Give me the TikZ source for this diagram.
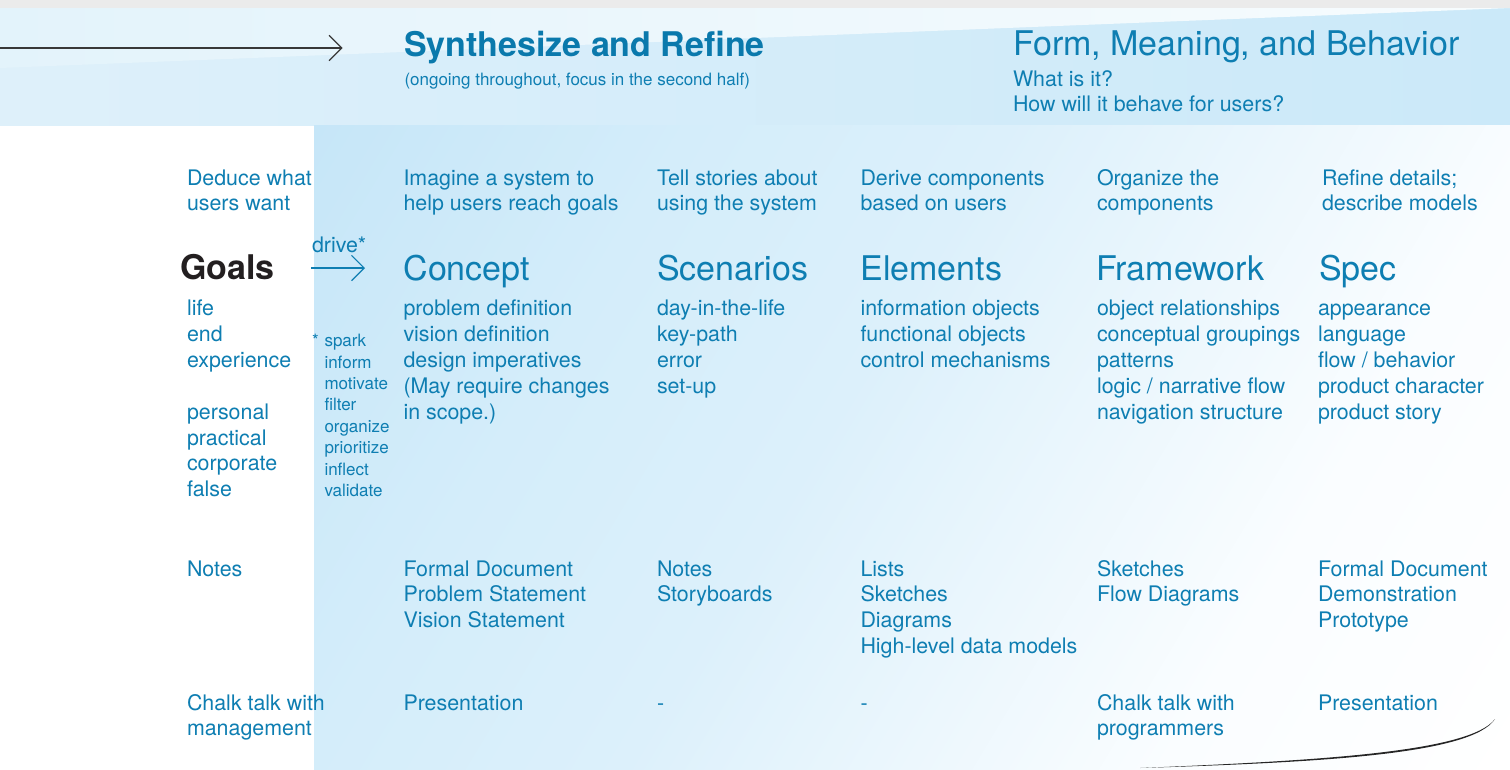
\documentclass[tikz,border=0pt]{standalone}
\usepackage{fontspec}
\setmainfont{TeX Gyre Heros}
\usetikzlibrary{arrows.meta}
\definecolor{tb}{HTML}{0E7EB2}
\definecolor{tbd}{HTML}{0A79AC}
\definecolor{goalc}{HTML}{231F20}
\definecolor{graytop}{HTML}{EBEBEB}
\definecolor{bandL}{HTML}{DEF0FA}
\definecolor{bandR}{HTML}{CBE9F9}
\definecolor{wedgeL}{HTML}{E3F3FB}
\definecolor{wedgeR}{HTML}{F7FCFE}
\definecolor{m0}{HTML}{C6E6F8}
\definecolor{m1}{HTML}{D4EDFA}
\definecolor{m2}{HTML}{DCF0FB}
\definecolor{m3}{HTML}{ECF7FD}
\definecolor{m4}{HTML}{FAFDFF}
\pgfdeclarehorizontalshading{mainsh}{100bp}{color(0bp)=(m0); color(25bp)=(m0); color(37bp)=(m1); color(47bp)=(m2); color(56bp)=(m3); color(64bp)=(m4); color(75bp)=(white); color(100bp)=(white)}
\begin{document}
\begin{tikzpicture}[x=1pt,y=-1pt,
  txt/.style={anchor=base west, inner sep=0pt, outer sep=0pt, text=tb, align=left, font=\fontsize{21.4}{25.9}\selectfont},
  ttl/.style={anchor=base west, inner sep=0pt, outer sep=0pt, text=tb, font=\fontsize{34}{40}\selectfont},
  sml/.style={anchor=base west, inner sep=0pt, outer sep=0pt, text=tb, align=left, font=\fontsize{17}{21.43}\selectfont},
  barb/.style={-{Straight Barb[length=12.7pt,width=25.4pt,line width=1.1pt]}}]
\useasboundingbox (0,0) rectangle (1510,769);
\fill[white] (0,0) rectangle (1510,769);
% top strips
\fill[graytop] (0,0) rectangle (1510,8);
\shade[left color=bandL, right color=bandR] (0,8) rectangle (1510,125);
\shade[left color=wedgeL, right color=wedgeR] (0,8) -- (1510,8) -- (0,68) -- cycle;
% main region
\begin{scope}
  \clip (314,125) rectangle (1510,769);
  \begin{scope}[transform canvas={rotate around={-31:(314,125)}}]
    \shade[shading=mainsh] (314,-650) rectangle (1671,850);
  \end{scope}
\end{scope}
% bottom swoosh
\fill[black!85] (1495,719) .. controls (1470,752) and (1320,760.5) .. (1140,768)
  .. controls (1321,762.3) and (1472,754.5) .. (1495,719) -- cycle;
% top arrow
\coordinate (ta0) at (0,48);
\coordinate (ta1) at (342.5,48);
\draw[barb, draw=black!78, line width=1.1pt] (ta0) -- (ta1);
% header
\node[ttl, font=\fontsize{34}{40}\selectfont\bfseries, text=tbd] (synth) at (404,56) {Synthesize and Refine};
\node[sml] (ongoing) at (404.5,85) {(ongoing throughout, focus in the second half)};
\node[ttl] (form) at (1013,55) {Form, Meaning, and Behavior};
\node[txt] (whatis) at (1013,111.9) {What is it?\\How will it behave for users?};
% column 0
\node[txt] (d0) at (187,210.9) {Deduce what\\users want};
\node[ttl, text=goalc, font=\fontsize{34}{40}\selectfont\bfseries] (goals) at (180,279) {Goals};
\node[txt] (l0) at (187,496.8) {life\\end\\experience\\[25.9pt]personal\\practical\\corporate\\false};
\node[txt] (a0) at (187,576) {Notes};
\node[txt] (p0) at (187,735.9) {Chalk talk with\\management};
% drive
\node[txt] (drive) at (312,252) {drive*};
\coordinate (dr0) at (311,268);
\coordinate (dr1) at (365,268);
\draw[barb, draw=tb, line width=1.1pt] (dr0) -- (dr1);
\node[sml] (star) at (312,346.7) {*};
\node[sml] (verbs) at (324.5,496.7) {spark\\inform\\motivate\\filter\\organize\\prioritize\\inflect\\validate};
% column 1
\node[txt] (d1) at (403.5,210.9) {Imagine a system to\\help users reach goals};
\node[ttl] (concept) at (403.5,280) {Concept};
\node[txt] (l1) at (403.5,419.1) {problem definition\\vision definition\\design imperatives\\(May require changes\\in scope.)};
\node[txt] (a1) at (403.5,627.8) {Formal Document\\Problem Statement\\Vision Statement};
\node[txt] (p1) at (403.5,710) {Presentation};
% column 2
\node[txt] (d2) at (657,210.9) {Tell stories about\\using the system};
\node[ttl] (scen) at (657,280) {Scenarios};
\node[txt] (l2) at (657,393.2) {day-in-the-life\\key-path\\error\\set-up};
\node[txt] (a2) at (657,601.9) {Notes\\Storyboards};
\node[txt] (p2) at (657,710) {-};
% column 3
\node[txt] (d3) at (860.5,210.9) {Derive components\\based on users};
\node[ttl] (elem) at (860.5,280) {Elements};
\node[txt] (l3) at (860.5,367.3) {information objects\\functional objects\\control mechanisms};
\node[txt] (a3) at (860.5,653.7) {Lists\\Sketches\\Diagrams\\High-level data models};
\node[txt] (p3) at (860.5,710) {-};
% column 4
\node[txt] (d4) at (1097,210.9) {Organize the\\components};
\node[ttl] (frame) at (1096,280) {Framework};
\node[txt] (l4) at (1097,419.1) {object relationships\\conceptual groupings\\patterns\\logic / narrative flow\\navigation structure};
\node[txt] (a4) at (1097,601.9) {Sketches\\Flow Diagrams};
\node[txt] (p4) at (1097,735.9) {Chalk talk with\\programmers};
% column 5
\node[txt] (d5) at (1322,210.9) {Refine details;\\describe models};
\node[ttl] (spec) at (1319,280) {Spec};
\node[txt] (l5) at (1318,419.1) {appearance\\language\\flow / behavior\\product character\\product story};
\node[txt] (a5) at (1318,627.8) {Formal Document\\Demonstration\\Prototype};
\node[txt] (p5) at (1318,710) {Presentation};
\end{tikzpicture}
\end{document}
